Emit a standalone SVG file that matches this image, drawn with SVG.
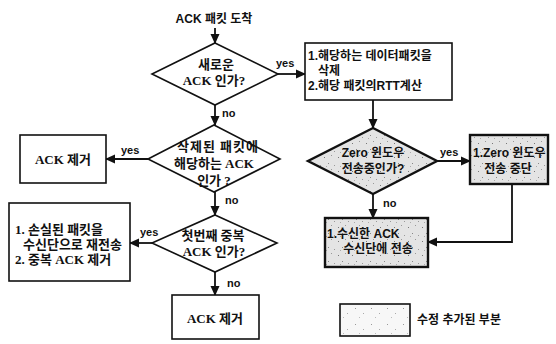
<svg xmlns="http://www.w3.org/2000/svg" width="556" height="344" viewBox="0 0 556 344">
<style>
.n{fill:#fff;stroke:#111;stroke-width:1.6}
.h{fill:url(#speck);stroke:#111;stroke-width:2.4}
.c{fill:none;stroke:#111;stroke-width:1.8}
.t{font-family:"Liberation Serif","Noto Sans CJK KR",serif;font-size:13px;font-weight:bold;fill:#111}
.s{font-family:"Liberation Sans","Noto Sans CJK KR",sans-serif;font-size:12px;font-weight:bold;fill:#111}
.l{font-family:"Liberation Sans",sans-serif;font-size:11px;font-weight:bold;fill:#111}
.m{text-anchor:middle}
</style>
<defs>
<marker id="ah" markerWidth="10" markerHeight="10" refX="9" refY="5" orient="auto" markerUnits="userSpaceOnUse"><path d="M0,0.5 L10,5 L0,9.5 Z" fill="#111"/></marker>
<pattern id="speck" width="14" height="14" patternUnits="userSpaceOnUse">
<rect width="14" height="14" fill="#e4e4e4"/>
<rect x="2" y="3" width="1" height="1" fill="#777"/>
<rect x="9" y="1" width="1" height="1" fill="#999"/>
<rect x="6" y="9" width="1" height="1" fill="#888"/>
<rect x="12" y="11" width="1" height="1" fill="#999"/>
<rect x="4" y="12" width="1" height="1" fill="#aaa"/>
</pattern>
<pattern id="speck2" width="16" height="16" patternUnits="userSpaceOnUse">
<rect width="16" height="16" fill="#f7f7f7"/>
<rect x="3" y="4" width="1" height="1" fill="#999"/>
<rect x="11" y="9" width="1" height="1" fill="#aaa"/>
<rect x="7" y="13" width="1" height="1" fill="#bbb"/>
</pattern>
</defs>

<g id="connectors">
<path class="c" d="M215,28 V43" marker-end="url(#ah)"/>
<path class="c" d="M278,74 H305" marker-end="url(#ah)"/>
<path class="c" d="M215,105 V125" marker-end="url(#ah)"/>
<path class="c" d="M148,159 H106" marker-end="url(#ah)"/>
<path class="c" d="M215,192 V215" marker-end="url(#ah)"/>
<path class="c" d="M152,243 H130" marker-end="url(#ah)"/>
<path class="c" d="M215,272 V295" marker-end="url(#ah)"/>
<path class="c" d="M373,100 V128" marker-end="url(#ah)"/>
<path class="c" d="M437,161 H470" marker-end="url(#ah)"/>
<path class="c" d="M373,194 V218" marker-end="url(#ah)"/>
<path class="c" d="M512,184 V242 H428" marker-end="url(#ah)"/>
<text class="l" x="276" y="67">yes</text>
<text class="l" x="222" y="117">no</text>
<text class="l" x="121" y="154">yes</text>
<text class="l" x="225" y="204">no</text>
<text class="l" x="140" y="236">yes</text>
<text class="l" x="227" y="287">no</text>
<text class="l" x="440" y="156">yes</text>
<text class="l" x="383" y="207">no</text>
</g>

<g id="start">
<text class="s m" x="214" y="23">ACK 패킷 도착</text>
</g>

<g id="d1">
<polygon class="n" points="215,43 278,74 215,105 152,74"/>
<text class="t m" x="216" y="69" font-size="12">새로운</text>
<text class="t m" x="214" y="85" font-size="12">ACK 인가?</text>
</g>

<g id="b1">
<rect class="n" x="305" y="43" width="147" height="57"/>
<text class="s" x="308" y="60">1.해당하는 데이터패킷을</text>
<text class="s" x="318" y="75">삭제</text>
<text class="s" x="308" y="90">2.해당 패킷의RTT계산</text>
</g>

<g id="d2">
<polygon class="n" points="214,125 280,159 214,192 148,159"/>
<text class="t m" x="218" y="151" letter-spacing="1">삭제된 패킷에</text>
<text class="t m" x="214" y="168">해당하는 ACK</text>
<text class="t m" x="214" y="185">인가 ?</text>
</g>

<g id="rm1">
<rect class="n" x="20" y="135" width="86" height="48"/>
<text class="t m" x="63" y="164">ACK 제거</text>
</g>

<g id="d3">
<polygon class="n" points="215,215 277,243 215,272 152,243"/>
<text class="t m" x="213" y="240" font-size="12">첫번째 중복</text>
<text class="t m" x="214" y="256" font-size="12">ACK 인가?</text>
</g>

<g id="retx">
<rect class="n" x="9" y="203" width="121" height="78"/>
<text class="t" x="15" y="234" font-size="12">1. 손실된 패킷을</text>
<text class="t" x="23" y="249" font-size="12">수신단으로 재전송</text>
<text class="t" x="15" y="264" font-size="12">2. 중복 ACK 제거</text>
</g>

<g id="rm2">
<rect class="n" x="172" y="295" width="87" height="44"/>
<text class="t m" x="215" y="323">ACK 제거</text>
</g>

<g id="d4">
<polygon class="h" points="373,128 437,161 373,194 308,161"/>
<text class="s m" x="373" y="157">Zero 윈도우</text>
<text class="s m" x="373" y="173">전송중인가?</text>
</g>

<g id="zstop">
<rect class="h" x="470" y="135" width="78" height="49"/>
<text class="s" x="473" y="157" font-size="11.5">1.Zero 윈도우</text>
<text class="s m" x="508" y="173">전송 중단</text>
</g>

<g id="fwd">
<rect class="h" x="325" y="218" width="103" height="49" stroke-width="2.8"/>
<text class="s" x="327" y="238">1.수신한 ACK</text>
<text class="s m" x="378" y="253">수신단에 전송</text>
</g>

<g id="legend">
<rect x="340" y="304" width="70" height="32" fill="url(#speck2)" stroke="#111" stroke-width="1.6"/>
<text class="s" x="417" y="324" font-size="11">수정 추가된 부분</text>
</g>
</svg>
